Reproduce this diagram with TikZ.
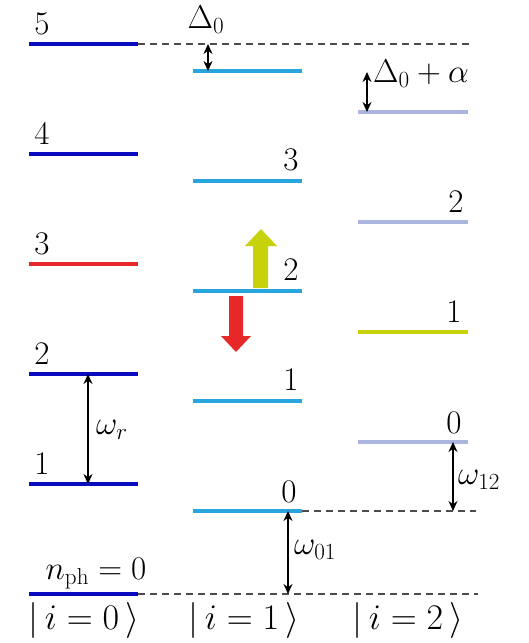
\documentclass[tikz,border=0pt]{standalone}
\usepackage{fix-cm}
\usetikzlibrary{arrows.meta}
\definecolor{dkblue}{RGB}{10,10,190}
\definecolor{cyanl}{RGB}{40,165,220}
\definecolor{lav}{RGB}{170,182,222}
\definecolor{redl}{RGB}{230,40,40}
\definecolor{ygreen}{RGB}{200,210,10}
\tikzset{
  lvl/.style={line width=3.8pt},
  dash line/.style={dashed, dash pattern=on 7pt off 5pt, line width=1.3pt, black!70},
  dbl/.style={{Stealth[length=10pt,width=9pt]}-{Stealth[length=10pt,width=9pt]}, line width=1.2pt},
  lbl/.style={inner sep=0pt, font=\fontsize{33}{38}\selectfont},
  ket/.style={inner sep=0pt, font=\fontsize{36}{42}\selectfont},
}
\begin{document}
\begin{tikzpicture}[x=1pt,y=-1pt]
\useasboundingbox (0,0) rectangle (528,643);
% column 0
\foreach \n/\y in {5/44,4/154,3/264,2/374,1/484,0/594}{
  \coordinate (a\n l) at (29,\y); \coordinate (a\n r) at (138,\y);
}
\foreach \n in {5,4,2,1,0}{ \draw[lvl,dkblue] (a\n l) -- (a\n r); }
\draw[lvl,redl] (a3l) -- (a3r);
% column 1
\foreach \n/\y in {4/71,3/181,2/291,1/401,0/511}{
  \coordinate (b\n l) at (193,\y); \coordinate (b\n r) at (302,\y);
  \draw[lvl,cyanl] (b\n l) -- (b\n r);
}
% column 2
\foreach \n/\y in {3/112,2/222,1/332,0/442}{
  \coordinate (c\n l) at (358,\y); \coordinate (c\n r) at (468,\y);
}
\foreach \n in {3,2,0}{ \draw[lvl,lav] (c\n l) -- (c\n r); }
\draw[lvl,ygreen] (c1l) -- (c1r);
% dashed lines
\coordinate (d5) at (470,44);
\coordinate (d1) at (476,511);
\coordinate (d0) at (478,594);
\draw[dash line] (a5r) -- (d5);
\draw[dash line] (b0r) -- (d1);
\draw[dash line] (a0r) -- (d0);
% double arrows
\coordinate (D0t) at (208,44); \coordinate (D0b) at (208,71);
\draw[dbl] (D0t) -- (D0b);
\coordinate (Dat) at (367,72); \coordinate (Dab) at (367,112);
\draw[dbl] (Dat) -- (Dab);
\coordinate (wrt) at (88,374); \coordinate (wrb) at (88,484);
\draw[dbl] (wrt) -- (wrb);
\coordinate (w12t) at (453,442); \coordinate (w12b) at (453,511);
\draw[dbl] (w12t) -- (w12b);
\coordinate (w01t) at (288,511); \coordinate (w01b) at (288,594);
\draw[dbl] (w01t) -- (w01b);
% thick arrows
\fill[ygreen] (253,288) -- (253,246) -- (245,246) -- (261,229) -- (277,246) -- (268,246) -- (268,288) -- cycle;
\fill[redl] (229,296) -- (229,336) -- (221,336) -- (236,352) -- (251,336) -- (243,336) -- (243,296) -- cycle;
% labels
\node[lbl] (l5) at (42,24) {$5$};
\node[lbl] (l4) at (42,134) {$4$};
\node[lbl] (l3) at (42,244) {$3$};
\node[lbl] (l2) at (42,354) {$2$};
\node[lbl] (l1) at (42,464) {$1$};
\node[lbl] (l0) at (96,574) {$n_{\mathrm{ph}}=0$};
\node[lbl] (m3) at (291,160) {$3$};
\node[lbl] (m2) at (291,270) {$2$};
\node[lbl] (m1) at (291,380) {$1$};
\node[lbl] (m0) at (289,492) {$0$};
\node[lbl] (r2) at (456,202) {$2$};
\node[lbl] (r1) at (454,312) {$1$};
\node[lbl] (r0) at (454,423) {$0$};
\node[lbl] (tD0) at (206,20) {$\Delta_0$};
\node[lbl,anchor=west] (tDa) at (373,74) {$\Delta_0+\alpha$};
\node[lbl,anchor=west] (twr) at (96,430) {$\omega_r$};
\node[lbl,anchor=west] (tw12) at (458,480) {$\omega_{12}$};
\node[lbl,anchor=west] (tw01) at (294,550) {$\omega_{01}$};
\node[ket] (k0) at (84,620) {$|\,i=0\,\rangle$};
\node[ket] (k1) at (244,620) {$|\,i=1\,\rangle$};
\node[ket] (k2) at (408,620) {$|\,i=2\,\rangle$};
\end{tikzpicture}
\end{document}
